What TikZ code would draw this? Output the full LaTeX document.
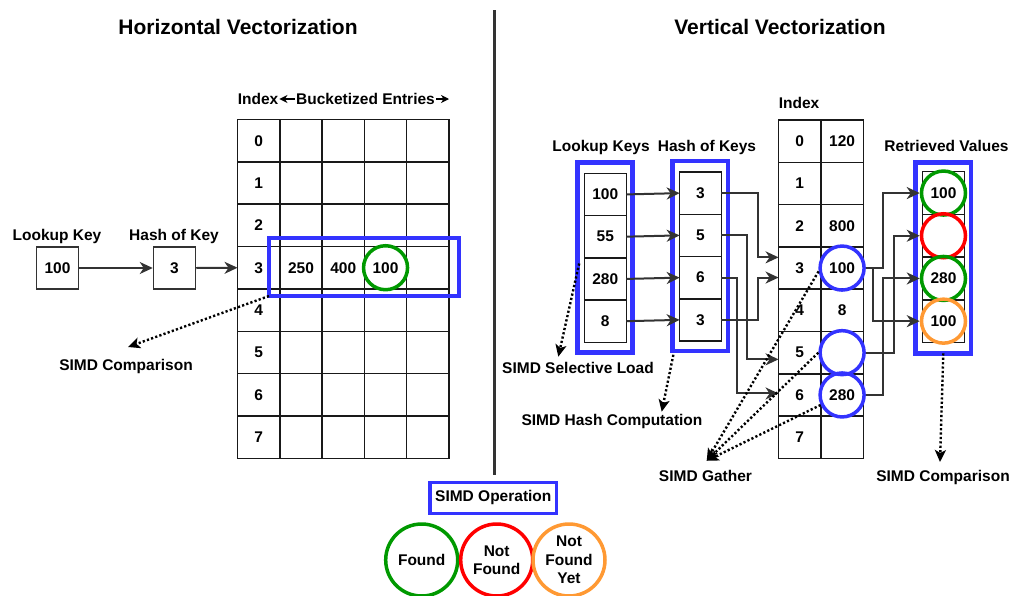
\documentclass[tikz,border=0pt]{standalone}
\usepackage{fontspec}
\setmainfont{Liberation Sans}
\usetikzlibrary{arrows.meta,calc}
\definecolor{blueC}{HTML}{3333FF}
\definecolor{greenC}{HTML}{009900}
\definecolor{redC}{HTML}{FF0000}
\definecolor{orangeC}{HTML}{FF9933}
\definecolor{arrC}{HTML}{333333}
\begin{document}
\begin{tikzpicture}[x=1pt,y=-1pt,
  font=\fontsize{15.5}{18.5}\selectfont\bfseries,
  cell/.style={draw=black!90, line width=1.5pt, minimum width=42.3pt, minimum height=42.35pt, inner sep=0pt, outer sep=0pt},
  kcell/.style={cell, minimum width=42pt, minimum height=42.25pt},
  rcell/.style={cell, minimum width=41.6pt, minimum height=42.7pt},
  txt/.style={inner sep=0pt},
  lbl/.style={inner sep=1pt},
  ttl/.style={font=\fontsize{21}{24}\selectfont\bfseries},
  bluebox/.style={draw=blueC, line width=4.5pt, inner sep=0pt, outer sep=0pt},
  ring/.style={circle, draw=#1, line width=3.5pt, minimum size=44pt, inner sep=0pt},
  bigring/.style={circle, draw=#1, line width=3.5pt, minimum size=72pt, inner sep=0pt, align=center},
  arr/.style={draw=arrC, line width=2pt, -{Stealth[length=13pt,width=12pt,inset=4pt]}},
  smallarr/.style={draw=black, line width=1.2pt, -{Stealth[length=8pt,width=8pt,inset=2.5pt]}},
  dotarr/.style={draw=black, line width=2.4pt, dash pattern=on 2.2pt off 2.2pt, -{Stealth[length=12pt,width=11pt,inset=3pt]}},
  sbox/.style={draw=arrC, line width=1.5pt, minimum size=42pt, inner sep=0pt}
]
\useasboundingbox (0,0) rectangle (1013,595);

% titles and divider
\node[ttl] (t1) at (238,27) {Horizontal Vectorization};
\node[ttl] (t2) at (780,27) {Vertical Vectorization};
\coordinate (divT) at (494.3,10);
\coordinate (divB) at (494.3,475);
\draw[draw=arrC, line width=3pt] (divT) -- (divB);

% ---------------- left: horizontal ----------------
\foreach \r in {0,...,7} {
  \foreach \c in {0,...,4} {
    \node[cell] (L\r\c) at ({237.5+42.3*(\c+0.5)},{119.5+42.35*(\r+0.5)}) {\ifnum\c=0 \r\fi};
  }
}
\node[txt] (v250) at (L31) {250};
\node[txt] (v400) at (L32) {400};
\node[txt] (v100) at (L33) {100};

\node[lbl] (idxL) at (258,99) {Index};
\node[lbl] (bkt) at (365.5,99) {Bucketized Entries};
\coordinate (bkE) at (449,99);
\draw[smallarr] (bkt.west) -- (idxL.east);
\draw[smallarr] (bkt.east) -- (bkE);

\node[sbox] (lk) at (57.5,268) {100};
\node[sbox] (hk) at (174.5,268) {3};
\node[lbl] (lkL) at (57,236) {Lookup Key};
\node[lbl] (hkL) at (174,236) {Hash of Key};
\draw[arr] (lk) -- (hk);
\draw[arr] (hk.east) -- (L30.west);

\node[bluebox, minimum width=190pt, minimum height=58pt] (hbox) at (364,267) {};
\node[ring=greenC] (gL) at (L33) {};

\node[lbl] (cmpL) at (126,366) {SIMD Comparison};
\coordinate (tipL) at (128,347);
\draw[dotarr] (hbox.south west) -- (tipL);

% ---------------- right: vertical ----------------
\foreach \r in {0,...,7} {
  \node[cell] (I\r0) at ({778.5+42.4*0.5},{120+42.3*(\r+0.5)}) {\r};
  \node[cell] (I\r1) at ({778.5+42.4*1.5},{120+42.3*(\r+0.5)}) {};
}
\node[txt] (v120) at (I01) {120};
\node[txt] (v800) at (I21) {800};
\node[txt] (v8) at (I41) {8};
\node[ring=blueC] (C3) at (I31) {100};
\node[ring=blueC] (C5) at (I51) {};
\node[ring=blueC] (C6) at (I61) {280};
\node[lbl] (idxR) at (799,103) {Index};

\foreach \v [count=\i from 0] in {100,55,280,8}
  \node[kcell] (K\i) at (605.3,{173.3+42.25*(\i+0.5)}) {\v};
\foreach \v [count=\i from 0] in {3,5,6,3}
  \node[kcell, minimum width=41.6pt] (H\i) at (700.5,{172+42.25*(\i+0.5)}) {\v};
\foreach \i in {0,...,3}
  \node[rcell] (R\i) at (943.5,{171.7+42.7*(\i+0.5)}) {};

\node[bluebox, minimum width=54.6pt, minimum height=189.6pt] (kbox) at (605,257.5) {};
\node[bluebox, minimum width=55.7pt, minimum height=189.7pt] (hbox2) at (700.2,255.9) {};
\node[bluebox, minimum width=55.3pt, minimum height=190.6pt] (rbox) at (943.3,258) {};

\node[ring=greenC] (RC0) at (R0) {100};
\node[ring=redC] (RC1) at (R1) {};
\node[ring=greenC] (RC2) at (R2) {280};
\node[ring=orangeC] (RC3) at (R3) {100};

\node[lbl] (lkR) at (601,147) {Lookup Keys};
\node[lbl] (hkR) at (707,147) {Hash of Keys};
\node[lbl] (rvR) at (946.5,146) {Retrieved Values};

\foreach \i in {0,...,3}
  \draw[arr] (K\i.east) -- (H\i.west);

\draw[arr] (H0.east) -| ($(I30.west)+(-20.5,-10.7)$) -- ($(I30.west)+(0,-10.7)$);
\draw[arr] (H1.east) -| ($(I50.west)+(-31.2,6.7)$) -- ($(I50.west)+(0,6.7)$);
\draw[arr] (H2.east) -| ($(I60.west)+(-41.8,-1.5)$) -- ($(I60.west)+(0,-1.5)$);
\draw[arr] (H3.east) -| ($(I30.west)+(-20.5,9.5)$) -- ($(I30.west)+(0,9.5)$);

\draw[arr] (C3.east) -| ($(RC0.west)+(-36.5,0)$) -- (RC0.west);
\draw[arr] (C3.east) -| ($(RC3.west)+(-46.5,0)$) -- (RC3.west);
\draw[arr] (C5.east) -| ($(RC1.west)+(-25.8,0)$) -- (RC1.west);
\draw[arr] (C6.east) -| ($(RC2.west)+(-36.5,0)$) -- (RC2.west);

\node[lbl] (selL) at (578,368) {SIMD Selective Load};
\node[lbl] (hcL) at (612,421) {SIMD Hash Computation};
\node[lbl] (gaL) at (705.5,476) {SIMD Gather};
\node[lbl] (cmpR) at (943,477) {SIMD Comparison};
\coordinate (tipSel) at (558.3,356.7);
\coordinate (tipHc) at (661.7,411.7);
\coordinate (tipGa) at (706.7,460.7);
\coordinate (tipCmp) at (940,462);
\draw[dotarr] ($(kbox.west)+(1.5,6)$) -- (tipSel);
\draw[dotarr] ($(hbox2.south west)+(1,4)$) -- (tipHc);
\draw[dotarr] (C3.188) -- (tipGa);
\draw[dotarr] (C5.west) -- (tipGa);
\draw[dotarr] (C6.205) -- (tipGa);
\draw[dotarr] (rbox.south) -- (tipCmp);

% ---------------- legend ----------------
\node[bluebox, line width=3.5pt, minimum width=126.7pt, minimum height=31pt] (simdop) at (493.3,497.8) {SIMD Operation};
\node[bigring=greenC] (lgF) at (421.7,560) {Found};
\node[bigring=redC] (lgNF) at (496.7,560) {Not\\Found};
\node[bigring=orangeC] (lgNFY) at (569,560) {Not\\Found\\Yet};
\end{tikzpicture}
\end{document}
